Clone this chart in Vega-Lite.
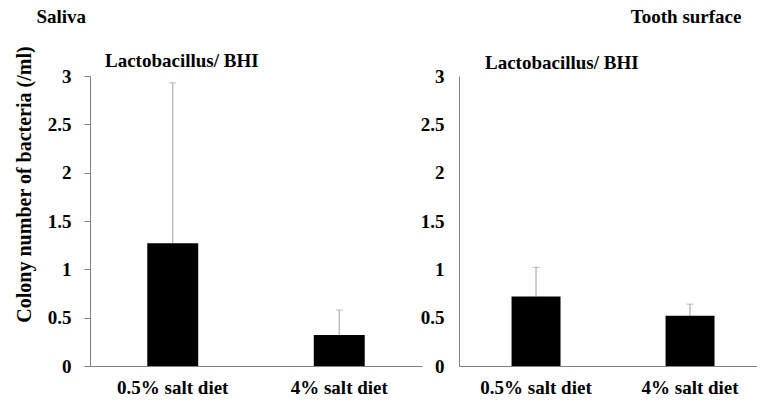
{
  "$schema": "https://vega.github.io/schema/vega-lite/v6.json",
  "padding": {"left": 13, "top": 7, "right": 0, "bottom": 0},
  "background": "white",
  "config": {
    "view": {"stroke": null},
    "font": "Liberation Serif",
    "concat": {"spacing": 0},
    "title": {"font": "Liberation Serif", "fontWeight": "bold", "fontSize": 19, "color": "black"}
  },
  "datasets": {
    "saliva": [
      {"diet": "0.5% salt diet", "mean": 1.27, "upper": 2.93},
      {"diet": "4% salt diet", "mean": 0.32, "upper": 0.58}
    ],
    "tooth": [
      {"diet": "0.5% salt diet", "mean": 0.72, "upper": 1.02},
      {"diet": "4% salt diet", "mean": 0.52, "upper": 0.64}
    ]
  },
  "spacing": -2,
  "hconcat": [
    {
      "width": 332,
      "height": 290,
      "title": {"text": "Lactobacillus/ BHI", "anchor": "start", "frame": "group", "dx": 15, "dy": 69, "offset": 5},
      "data": {"name": "saliva"},
      "encoding": {
        "x": {
          "field": "diet", "type": "nominal", "sort": null,
          "scale": {"paddingInner": 0.694, "paddingOuter": 0.344},
          "axis": {
            "labelAngle": 0, "ticks": false, "domainColor": "#808080", "labelFontSize": 19, "labelFontWeight": "bold", "labelColor": "black", "labelPadding": 12,
            "title": "Saliva", "titleFontSize": 19, "titleFontWeight": "bold", "titleColor": "black",
            "titleAngle": 0, "titleAlign": "left", "titleBaseline": "middle", "titleX": -54, "titleY": -350
          }
        }
      },
      "layer": [
        {
          "mark": {"type": "rule", "color": "#a0a0a0", "strokeWidth": 1},
          "encoding": {
            "y": {"field": "mean", "type": "quantitative"},
            "y2": {"field": "upper"}
          }
        },
        {
          "mark": {"type": "tick", "color": "#a0a0a0", "size": 7, "thickness": 1},
          "encoding": {"y": {"field": "upper", "type": "quantitative"}}
        },
        {
          "mark": {"type": "bar", "color": "black"},
          "encoding": {
            "y": {
              "field": "mean", "type": "quantitative",
              "scale": {"domain": [0, 3], "nice": false},
              "axis": {
                "values": [0, 0.5, 1, 1.5, 2, 2.5, 3], "format": "~g", "grid": false,
                "domainColor": "#808080", "tickColor": "#808080", "tickSize": 6,
                "labelPadding": 13, "labelFontSize": 19, "labelFontWeight": "bold", "labelColor": "black",
                "title": "Colony number of bacteria (/ml)", "titleFontSize": 20, "titleFontWeight": "bold", "titleColor": "black",
                "titleAngle": -90, "titleX": -66, "titleY": 108, "titleAlign": "center", "titleBaseline": "middle"
              }
            }
          }
        }
      ]
    },
    {
      "width": 298,
      "height": 290,
      "title": {"text": "Lactobacillus/ BHI", "anchor": "start", "frame": "group", "dx": 26, "dy": 68, "offset": 2},
      "data": {"name": "tooth"},
      "encoding": {
        "x": {
          "field": "diet", "type": "nominal", "sort": null,
          "scale": {"paddingInner": 0.682, "paddingOuter": 0.3085, "align": 0.553},
          "axis": {"title": null, "labelAngle": 0, "ticks": false, "domainColor": "#808080", "labelFontSize": 19, "labelFontWeight": "bold", "labelColor": "black", "labelPadding": 12}
        }
      },
      "layer": [
        {
          "mark": {"type": "rule", "color": "#a0a0a0", "strokeWidth": 1},
          "encoding": {
            "y": {"field": "mean", "type": "quantitative"},
            "y2": {"field": "upper"}
          }
        },
        {
          "mark": {"type": "tick", "color": "#a0a0a0", "size": 7, "thickness": 1},
          "encoding": {"y": {"field": "upper", "type": "quantitative"}}
        },
        {
          "mark": {"type": "bar", "color": "black"},
          "encoding": {
            "y": {
              "field": "mean", "type": "quantitative",
              "scale": {"domain": [0, 3], "nice": false},
              "axis": {
                "values": [0, 0.5, 1, 1.5, 2, 2.5, 3], "format": "~g", "grid": false,
                "domainColor": "#808080", "ticks": false, "tickSize": 0,
                "labelPadding": 15, "labelFontSize": 19, "labelFontWeight": "bold", "labelColor": "black",
                "title": "Tooth surface", "titleFontSize": 19, "titleFontWeight": "bold", "titleColor": "black",
                "titleAngle": 0, "titleAlign": "right", "titleBaseline": "middle", "titleX": 282, "titleY": -60
              }
            }
          }
        }
      ]
    }
  ]
}
